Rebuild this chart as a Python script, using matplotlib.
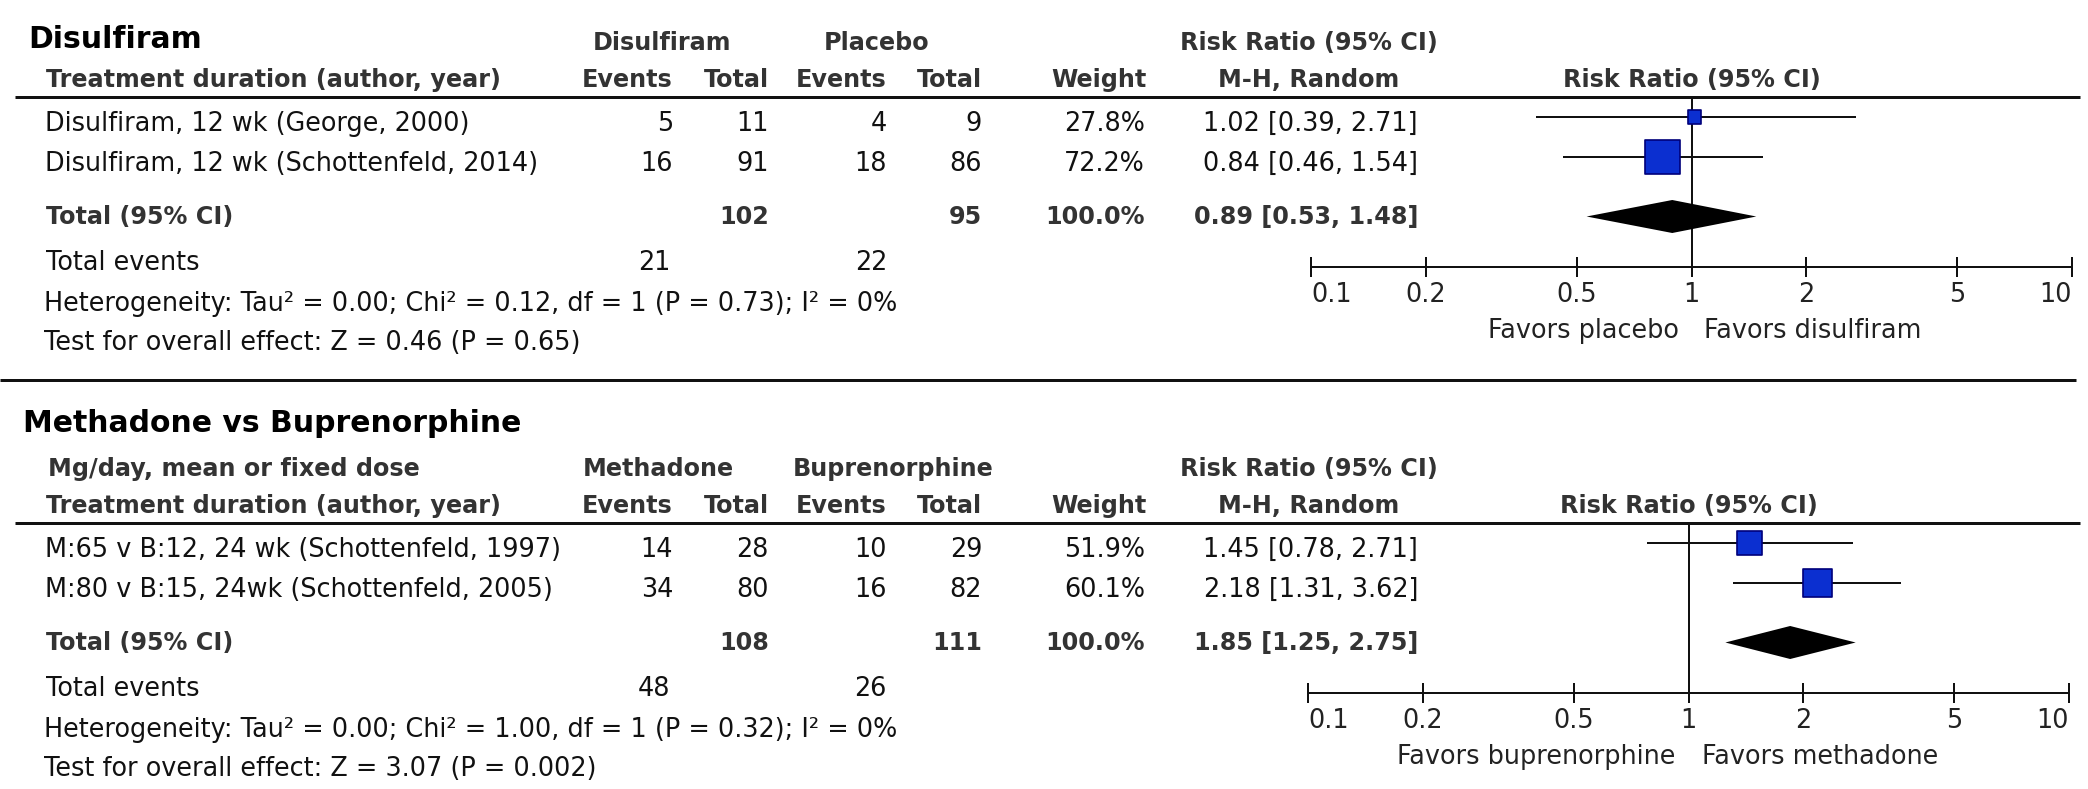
import matplotlib
matplotlib.use("Agg")
import matplotlib.pyplot as plt

# ------------------------------------------------------------------ data
s1_title = "Disulfiram"
s1_group_labels = ["Disulfiram", "Placebo"]
s1_dose_header = ""
s1_studies = ["Disulfiram, 12 wk (George, 2000)",
              "Disulfiram, 12 wk (Schottenfeld, 2014)"]
s1_exp_events = [5, 16]
s1_exp_total = [11, 91]
s1_ctl_events = [4, 18]
s1_ctl_total = [9, 86]
s1_weight = [27.8, 72.2]
s1_rr = [1.02, 0.84]
s1_lo = [0.39, 0.46]
s1_hi = [2.71, 1.54]
s1_sum_total = [102, 95]
s1_sum_events = [21, 22]
s1_sum_weight = 100.0
s1_pooled = [0.89, 0.53, 1.48]
s1_het = "Heterogeneity: Tau\u00b2 = 0.00; Chi\u00b2 = 0.12, df = 1 (P = 0.73); I\u00b2 = 0%"
s1_test = "Test for overall effect: Z = 0.46 (P = 0.65)"
s1_favors = ["Favors placebo", "Favors disulfiram"]

s2_title = "Methadone vs Buprenorphine"
s2_group_labels = ["Methadone", "Buprenorphine"]
s2_dose_header = "Mg/day, mean or fixed dose"
s2_studies = ["M:65 v B:12, 24 wk (Schottenfeld, 1997)",
              "M:80 v B:15, 24wk (Schottenfeld, 2005)"]
s2_exp_events = [14, 34]
s2_exp_total = [28, 80]
s2_ctl_events = [10, 16]
s2_ctl_total = [29, 82]
s2_weight = [51.9, 60.1]
s2_rr = [1.45, 2.18]
s2_lo = [0.78, 1.31]
s2_hi = [2.71, 3.62]
s2_sum_total = [108, 111]
s2_sum_events = [48, 26]
s2_sum_weight = 100.0
s2_pooled = [1.85, 1.25, 2.75]
s2_het = "Heterogeneity: Tau\u00b2 = 0.00; Chi\u00b2 = 1.00, df = 1 (P = 0.32); I\u00b2 = 0%"
s2_test = "Test for overall effect: Z = 3.07 (P = 0.002)"
s2_favors = ["Favors buprenorphine", "Favors methadone"]

col_headers = ["Events", "Total", "Events", "Total", "Weight"]
study_header = "Treatment duration (author, year)"
rr_header = ["Risk Ratio (95% CI)", "M-H, Random"]
plot_header = "Risk Ratio (95% CI)"
total_label = "Total (95% CI)"
events_label = "Total events"
tick_values = [0.1, 0.2, 0.5, 1, 2, 5, 10]
tick_labels = ["0.1", "0.2", "0.5", "1", "2", "5", "10"]

# ------------------------------------------------------------------ style
W, H, DPI = 2088, 789, 100
FONT = "DejaVu Sans"
FS_REG = 18.4
FS_BOLD = 17.2
FS_TITLE = 21.5
C_TEXT = "#111111"
C_HEAD = "#333333"
C_BOX = "#0b2fd0"
C_BOX_EDGE = "#00007a"
PX = 72.0 / DPI  # points per pixel

plt.rcParams["font.family"] = [FONT]

fig = plt.figure(figsize=(W / DPI, H / DPI), dpi=DPI)
fig.patch.set_facecolor("white")
axt = fig.add_axes([0, 0, 1, 1])
axt.set_xlim(0, W)
axt.set_ylim(H, 0)
axt.axis("off")


def txt(x, y, s, ha="left", bold=False, size=None, color=None):
    axt.text(x, y, s, ha=ha, va="baseline",
             fontsize=size if size else (FS_BOLD if bold else FS_REG),
             fontweight="bold" if bold else "normal",
             color=color if color else (C_HEAD if bold else C_TEXT))


sections = [
    dict(title=s1_title, groups=s1_group_labels, dose=s1_dose_header,
         studies=s1_studies, ee=s1_exp_events, et=s1_exp_total,
         ce=s1_ctl_events, ct=s1_ctl_total, w=s1_weight, rr=s1_rr,
         lo=s1_lo, hi=s1_hi, st=s1_sum_total, se=s1_sum_events,
         sw=s1_sum_weight, pooled=s1_pooled, het=s1_het, test=s1_test,
         favors=s1_favors,
         dy=0, title_y=48, ax_l=1311, ax_r=2072),
    dict(title=s2_title, groups=s2_group_labels, dose=s2_dose_header,
         studies=s2_studies, ee=s2_exp_events, et=s2_exp_total,
         ce=s2_ctl_events, ct=s2_ctl_total, w=s2_weight, rr=s2_rr,
         lo=s2_lo, hi=s2_hi, st=s2_sum_total, se=s2_sum_events,
         sw=s2_sum_weight, pooled=s2_pooled, het=s2_het, test=s2_test,
         favors=s2_favors,
         dy=426, title_y=432, ax_l=1308, ax_r=2069),
]

# column right edges / centres (pixels)
X_LABEL = 45
X_COLS = [673, 769, 887, 982, 1147]
X_GROUPS = [662, 877]
X_GROUPS_2 = [658, 893]
X_RR_RIGHT = 1418
X_RR_HEAD = 1309

for k, s in enumerate(sections):
    dy = s["dy"]
    # titles & headers
    txt(28 if k == 0 else 23, s["title_y"], s["title"], bold=True,
        size=FS_TITLE, color="#000000")
    gx = X_GROUPS if k == 0 else X_GROUPS_2
    for g, x in zip(s["groups"], gx):
        txt(x, dy + 50, g, ha="center", bold=True)
    if s["dose"]:
        txt(X_LABEL + 3, dy + 50, s["dose"], bold=True)
    txt(X_RR_HEAD, dy + 50, rr_header[0], ha="center", bold=True)
    txt(X_LABEL + 1, dy + 87, study_header, bold=True)
    for h, x in zip(col_headers, X_COLS):
        txt(x, dy + 87, h, ha="right", bold=True)
    txt(X_RR_HEAD, dy + 87, rr_header[1], ha="center", bold=True)
    x_one = s["ax_l"] + (s["ax_r"] - s["ax_l"]) / 2.0
    txt(x_one, dy + 87, plot_header, ha="center", bold=True)
    axt.plot([15, 2080], [dy + 97, dy + 97], color="#111111", lw=3 * PX,
             solid_capstyle="butt")

    # study rows
    row_base = [dy + 131, dy + 171]
    for i, y in enumerate(row_base):
        txt(X_LABEL, y, s["studies"][i])
        txt(X_COLS[0], y, str(s["ee"][i]), ha="right")
        txt(X_COLS[1], y, str(s["et"][i]), ha="right")
        txt(X_COLS[2], y, str(s["ce"][i]), ha="right")
        txt(X_COLS[3], y, str(s["ct"][i]), ha="right")
        txt(X_COLS[4] - 2, y, f"{s['w'][i]:.1f}%", ha="right")
        txt(X_RR_RIGHT, y, f"{s['rr'][i]:.2f} [{s['lo'][i]:.2f}, {s['hi'][i]:.2f}]",
            ha="right")

    # total row
    yt = dy + 224
    txt(X_LABEL + 1, yt, total_label, bold=True)
    txt(X_COLS[1], yt, str(s["st"][0]), ha="right", bold=True)
    txt(X_COLS[3], yt, str(s["st"][1]), ha="right", bold=True)
    txt(X_COLS[4] - 2, yt, f"{s['sw']:.1f}%", ha="right", bold=True)
    p = s["pooled"]
    txt(X_RR_RIGHT, yt, f"{p[0]:.2f} [{p[1]:.2f}, {p[2]:.2f}]", ha="right",
        bold=True)

    ye = dy + 270
    txt(X_LABEL + 1, ye, events_label)
    txt(X_COLS[0] - 3, ye, str(s["se"][0]), ha="right")
    txt(X_COLS[2], ye, str(s["se"][1]), ha="right")
    txt(X_LABEL - 1, dy + 311, s["het"])
    txt(X_LABEL - 1, dy + 350, s["test"])

    # ---------------- forest axes
    ax = fig.add_axes([s["ax_l"] / W, 0, (s["ax_r"] - s["ax_l"]) / W, 1])
    ax.patch.set_visible(False)
    ax.set_xscale("log")
    ax.set_xlim(tick_values[0], tick_values[-1])
    ax.set_ylim(H, 0)
    for sp in ["top", "left", "right"]:
        ax.spines[sp].set_visible(False)
    axis_y = dy + 267
    ax.spines["bottom"].set_position(("data", axis_y))
    ax.spines["bottom"].set_linewidth(2 * PX)
    ax.spines["bottom"].set_color("#111111")
    ax.set_yticks([])
    ax.minorticks_off()
    ax.set_xticks(tick_values)
    ax.set_xticklabels(tick_labels)
    ax.tick_params(axis="x", which="major", direction="inout",
                   length=20 * PX, width=2 * PX, color="#111111",
                   labelsize=FS_REG, labelcolor="#222222", pad=3.5)
    labs = ax.get_xticklabels()
    labs[0].set_horizontalalignment("left")
    labs[-1].set_horizontalalignment("right")

    # null line
    ax.vlines(1, dy + 97, axis_y, color="#111111", lw=2 * PX)
    # CIs and boxes
    ym = [y - 14 for y in row_base]
    ax.hlines(ym, s["lo"], s["hi"], color="#111111", lw=2 * PX)
    sizes = [(0.48 * w * PX) ** 2 for w in s["w"]]
    ax.scatter(s["rr"], ym, s=sizes, marker="s", color=C_BOX,
               edgecolor=C_BOX_EDGE, linewidth=1.2, zorder=3)
    # diamond
    yd = yt - 7.5
    hd = 16.5
    ax.fill([p[1], p[0], p[2], p[0]], [yd, yd - hd, yd, yd + hd],
            color="black", lw=0, zorder=3)
    # favours
    ax.annotate(s["favors"][0], (1, dy + 338), xytext=(-13 * PX, 0),
                textcoords="offset points", ha="right", va="baseline",
                fontsize=FS_REG, color="#222222")
    ax.annotate(s["favors"][1], (1, dy + 338), xytext=(13 * PX, 0),
                textcoords="offset points", ha="left", va="baseline",
                fontsize=FS_REG, color="#222222")

# section separator
axt.plot([0, 2076], [380, 380], color="#111111", lw=3 * PX,
         solid_capstyle="butt")

fig.savefig("out.png", dpi=DPI, facecolor="white")
